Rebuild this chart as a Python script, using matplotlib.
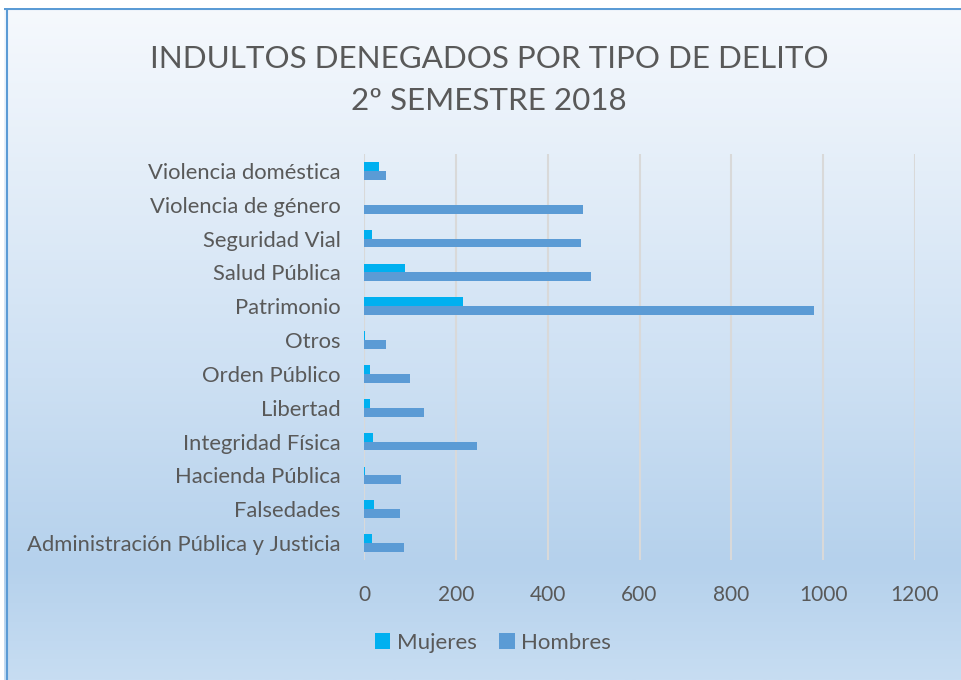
import numpy as np
import matplotlib
matplotlib.use("Agg")
import matplotlib.pyplot as plt
from matplotlib.colors import LinearSegmentedColormap

categories = ["Violencia doméstica", "Violencia de género", "Seguridad Vial", "Salud Pública",
              "Patrimonio", "Otros", "Orden Público", "Libertad", "Integridad Física",
              "Hacienda Pública", "Falsedades", "Administración Pública y Justicia"]
mujeres = [33, 0, 17, 90, 215, 2, 12, 12, 20, 3, 22, 17]
hombres = [48, 476, 473, 494, 981, 48, 100, 131, 246, 81, 78, 87]
xticks = [0, 200, 400, 600, 800, 1000, 1200]
title = "INDULTOS DENEGADOS POR TIPO DE DELITO\n2º SEMESTRE 2018"

W, H = 962, 680
fig = plt.figure(figsize=(W / 100, H / 100), dpi=100)
fig.patch.set_facecolor("white")

# gradient background
bg = fig.add_axes([4 / W, 0, 1 - 4 / W, 1 - 8 / H], zorder=0)
cmap = LinearSegmentedColormap.from_list("g", [
    (0.0, (246/255, 249/255, 253/255)),
    (0.55, (205/255, 224/255, 243/255)),
    (0.83, (181/255, 209/255, 236/255)),
    (1.0, (199/255, 221/255, 242/255))])
grad = np.linspace(0, 1, 256).reshape(-1, 1)
bg.imshow(grad, aspect="auto", cmap=cmap, extent=[0, 1, 0, 1], origin="upper")
bg.set_xlim(0, 1); bg.set_ylim(0, 1)
bg.axis("off")
bg.plot([0.003, 0.003], [0, 1], color="#5B9BD5", lw=1.5)
bg.plot([0, 1], [0.998, 0.998], color="#5B9BD5", lw=1.5)

ax = fig.add_axes([364 / W, 1 - 560 / H, (915 - 364) / W, (560 - 154) / H], zorder=1)
ax.patch.set_alpha(0)
n = len(categories)
y = np.arange(n)
bh = 0.26
ax.barh(y - bh / 2, mujeres, height=bh, color="#00B0F0", label="Mujeres", zorder=3)
ax.barh(y + bh / 2, hombres, height=bh, color="#5B9BD5", label="Hombres", zorder=3)
ax.set_ylim(n - 0.5, -0.5)
ax.set_xlim(0, 1200)
ax.set_xticks(xticks)
ax.set_yticks(y)
ax.set_yticklabels(categories)
ax.grid(axis="x", color="#D9D9D9", lw=1.5, zorder=0)
for s in ax.spines.values():
    s.set_visible(False)
ax.tick_params(axis="both", length=0, colors="#595959")
ax.tick_params(axis="y", pad=17, labelsize=15.8)
ax.tick_params(axis="x", pad=18, labelsize=15)
for t in ax.get_xticklabels() + ax.get_yticklabels():
    t.set_family("Lato")

fig.text(489 / W, 1 - 80 / H, title, ha="center", va="center", fontsize=22.6,
         color="#595959", family="Lato", fontweight="normal", linespacing=1.58)

leg = ax.legend(loc="center", bbox_to_anchor=(493 / W, 1 - 643 / H), bbox_transform=fig.transFigure,
                ncol=2, frameon=False, prop={"family": "Lato", "size": 16},
                handlelength=0.7, handleheight=0.7, handletextpad=0.3, columnspacing=1.0)
for t in leg.get_texts():
    t.set_color("#595959")

fig.savefig("out.png", dpi=100)
